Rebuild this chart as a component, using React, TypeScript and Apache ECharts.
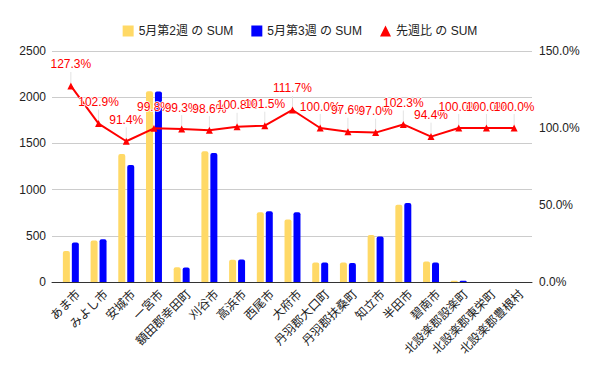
import React, { useEffect, useRef } from "react";
import * as echarts from "echarts";

const categories = [
  "あま市", "みよし市", "安城市", "一宮市", "額田郡幸田町", "刈谷市", "高浜市", "西尾市",
  "大府市", "丹羽郡大口町", "丹羽郡扶桑町", "知立市", "半田市", "碧南市",
  "北設楽郡設楽町", "北設楽郡東栄町", "北設楽郡豊根村",
];
const week2 = [335, 450, 1384, 2065, 159, 1415, 242, 754, 677, 210, 211, 508, 835, 222, 13, 1, 1];
const week3 = [427, 463, 1265, 2061, 158, 1395, 244, 765, 756, 210, 206, 493, 854, 210, 13, 1, 1];
const ratio = [1.273, 1.029, 0.914, 0.998, 0.993, 0.986, 1.008, 1.015, 1.117, 1.0, 0.976, 0.97, 1.023, 0.944, 1.0, 1.0, 1.0];
const leftTicks = { min: 0, max: 2500, interval: 500 };
const rightTicks = { min: 0, max: 1.5, interval: 0.5 };

const FONT = "'Liberation Sans', Arial, 'Noto Sans CJK JP', sans-serif";
const pct = (v: number) => (v * 100).toFixed(1) + "%";

export default function App() {
  const ref = useRef<HTMLDivElement>(null);
  useEffect(() => {
    document.body.style.margin = "0";
    if (!ref.current) return;
    const chart = echarts.init(ref.current, undefined, { renderer: "svg" });
    chart.setOption({
      animation: false,
      textStyle: { fontFamily: FONT },
      legend: {
        top: 20,
        left: "center",
        itemWidth: 11,
        itemHeight: 11,
        itemGap: 18,
        textStyle: { fontSize: 12, color: "#222", fontFamily: FONT },
        data: [
          { name: "5月第2週 の SUM", icon: "rect" },
          { name: "5月第3週 の SUM", icon: "rect" },
          { name: "先週比 の SUM", icon: "triangle" },
        ],
      },
      grid: [
        { left: 52, right: 68, top: 51, bottom: 89 },
        { left: 57, right: 72, top: 51, bottom: 89 },
        { left: 60, right: 69, top: 51, bottom: 89 },
      ],
      xAxis: [
        {
          type: "value", gridIndex: 0, min: 0, max: 1,
          axisLine: { show: true, lineStyle: { color: "#333", width: 1 } },
          axisTick: { show: false }, axisLabel: { show: false }, splitLine: { show: false },
        },
        {
          type: "category", gridIndex: 1, data: categories,
          axisLine: { show: false }, axisTick: { show: false }, axisLabel: { show: false },
        },
        {
          type: "category", gridIndex: 2, data: categories,
          axisLine: { show: false }, axisTick: { show: false },
          axisLabel: {
            interval: 0, rotate: 45, fontSize: 12, color: "#222", margin: 6, fontFamily: FONT,
            align: "right", verticalAlign: "top",
          },
        },
      ],
      yAxis: [
        {
          type: "value", gridIndex: 0, position: "left", ...leftTicks,
          axisLine: { show: false }, axisTick: { show: false },
          axisLabel: { fontSize: 12, color: "#222", margin: 6, fontFamily: FONT, formatter: (v: number) => String(v) },
          splitLine: { lineStyle: { color: "#cccccc" } },
        },
        {
          type: "value", gridIndex: 0, position: "right", ...rightTicks,
          axisLine: { show: false }, axisTick: { show: false },
          axisLabel: { fontSize: 12, color: "#222", margin: 7, formatter: pct, fontFamily: FONT },
          splitLine: { show: false },
        },
        { type: "value", gridIndex: 1, ...leftTicks, show: false },
        { type: "value", gridIndex: 1, ...rightTicks, show: false },
        { type: "value", gridIndex: 2, ...leftTicks, show: false },
      ],
      series: [
        {
          name: "5月第2週 の SUM", type: "bar", xAxisIndex: 1, yAxisIndex: 2,
          data: week2, barWidth: 7, barGap: "28%",
          itemStyle: { color: "#ffd966", borderRadius: [2, 2, 0, 0] },
        },
        {
          name: "5月第3週 の SUM", type: "bar", xAxisIndex: 1, yAxisIndex: 2,
          data: week3, barWidth: 7, barGap: "28%",
          itemStyle: { color: "#0000ff", borderRadius: [2, 2, 0, 0] },
        },
        {
          name: "stems", type: "custom", xAxisIndex: 1, yAxisIndex: 3, z: 4,
          data: ratio.map((v, i) => [i, v]),
          silent: true,
          renderItem: (_params: any, api: any) => {
            const p = api.coord([api.value(0), api.value(1)]);
            return {
              type: "line",
              shape: { x1: p[0], y1: p[1] - 3, x2: p[0], y2: p[1] - 14 },
              style: { stroke: "#e3e3e3", lineWidth: 1 },
            };
          },
        },
        {
          name: "先週比 の SUM", type: "line", xAxisIndex: 1, yAxisIndex: 3,
          data: ratio, symbol: "triangle", symbolSize: 7,
          lineStyle: { color: "#ff0000", width: 2 },
          itemStyle: { color: "#ff0000" },
          z: 5,
          label: {
            show: true, position: "top", distance: 2,
            formatter: (p: any) => pct(p.value),
            color: "#ff0000", fontSize: 12, fontFamily: FONT,
            textBorderColor: "#ffffff", textBorderWidth: 1.5,
          },
          labelLayout: { dy: -10 },
        },
      ],
    });
    return () => chart.dispose();
  }, []);
  return <div ref={ref} style={{ width: 600, height: 371 }} />;
}
